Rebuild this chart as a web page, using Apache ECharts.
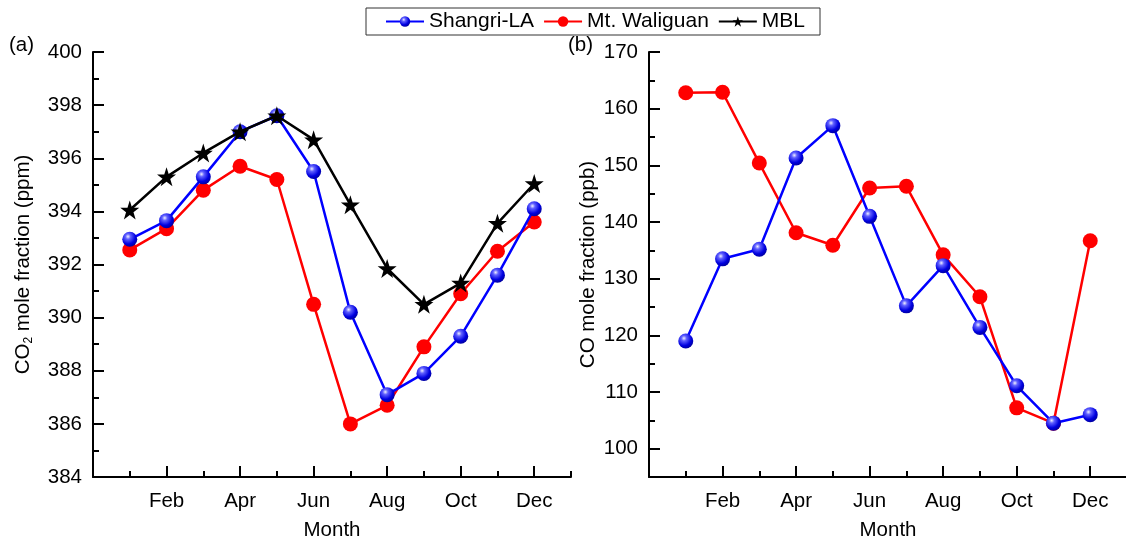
<!DOCTYPE html>
<html>
<head>
<meta charset="utf-8">
<script src="https://cdn.jsdelivr.net/npm/echarts@6/dist/echarts.min.js"></script>
<style>
html,body{margin:0;padding:0;background:#fff;}
#chart{width:1126px;height:536px;}
</style>
</head>
<body>
<div id="chart"></div>
<script>
// Data
const months = [1,2,3,4,5,6,7,8,9,10,11,12];
const monthLabels = {2:'Feb',4:'Apr',6:'Jun',8:'Aug',10:'Oct',12:'Dec'};
const co2Shangri = [392.95,393.65,395.3,397.0,397.6,395.5,390.2,387.1,387.9,389.3,391.6,394.1];
const co2Waliguan = [392.55,393.35,394.8,395.7,395.2,390.5,386.0,386.7,388.9,390.9,392.5,393.6];
const co2MBL = [394.05,395.3,396.2,397.0,397.6,396.7,394.25,391.85,390.5,391.3,393.55,395.05];
const coShangri = [119,133.5,135.2,151.3,157,141,125.2,132.3,121.4,111.1,104.5,106];
const coWaliguan = [162.8,162.9,150.4,138.1,135.9,146,146.3,134.2,126.8,107.2,104.5,136.7];
const co2Ticks = [384,386,388,390,392,394,396,398,400];
const coTicks = [100,110,120,130,140,150,160,170];

const pair = arr => months.map((m,i)=>[m,arr[i]]);
const chart = echarts.init(document.getElementById('chart'));
const FONT = 'Liberation Sans, Arial, sans-serif';
const FS = 20.5;
const star = 'path://M50,0 L61.8,35.1 L98.9,35.1 L69.1,56.7 L80.3,91.9 L50,70 L19.7,91.9 L30.9,56.7 L1.1,35.1 L38.2,35.1 Z';
const sphere = new echarts.graphic.RadialGradient(0.38,0.32,0.7,[
  {offset:0,color:'#f0f0ff'},{offset:0.25,color:'#6060ff'},{offset:0.7,color:'#0000e0'},{offset:1,color:'#0000a0'}]);

const axLine = {show:true,lineStyle:{color:'#000',width:2}};
function xMain(grid){
  return {type:'value',gridIndex:grid,min:0,max:13,
    name:'Month',nameLocation:'middle',nameGap:43,
    nameTextStyle:{fontFamily:FONT,fontSize:FS,color:'#000'},
    axisLine:axLine,splitLine:{show:false},
    axisTick:{show:true,inside:true,length:11,lineStyle:{color:'#000',width:2},customValues:[0,2,4,6,8,10,12]},
    axisLabel:{show:true,customValues:[2,4,6,8,10,12],formatter:v=>monthLabels[v]||'',
      fontFamily:FONT,fontSize:FS,color:'#000',margin:14}};
}
function xMinor(grid){
  return {type:'value',gridIndex:grid,min:0,max:13,position:'bottom',
    axisLine:{show:false},splitLine:{show:false},
    axisTick:{show:true,inside:true,length:6,lineStyle:{color:'#000',width:2},customValues:[1,3,5,7,9,11,13]},
    axisLabel:{show:false}};
}
function yMain(grid,min,max,ticks,name,gap){
  return {type:'value',gridIndex:grid,min:min,max:max,
    name:name,nameLocation:'middle',nameGap:gap,nameRotate:90,
    nameTextStyle:{fontFamily:FONT,fontSize:FS,color:'#000',
      rich:{n:{fontFamily:FONT,fontSize:FS,color:'#000'},s:{fontFamily:FONT,fontSize:12,color:'#000',padding:[12,0,0,0]}}},
    axisLine:axLine,splitLine:{show:false},
    axisTick:{show:true,inside:true,length:11,lineStyle:{color:'#000',width:2},customValues:ticks},
    axisLabel:{show:true,customValues:ticks,fontFamily:FONT,fontSize:FS,color:'#000',margin:11}};
}
function yMinor(grid,min,max,ticks){
  return {type:'value',gridIndex:grid,min:min,max:max,position:'left',
    axisLine:{show:false},splitLine:{show:false},
    axisTick:{show:true,inside:true,length:6,lineStyle:{color:'#000',width:2},customValues:ticks},
    axisLabel:{show:false}};
}
const co2Minor = co2Ticks.slice(0,-1).map(v=>v+1);
const coMinor = [95].concat(coTicks.slice(0,-1).map(v=>v+5));

function blueSeries(data,xi,yi){
  return {name:'Shangri-LA',type:'line',xAxisIndex:xi,yAxisIndex:yi,data:data,
    symbol:'circle',symbolSize:15,lineStyle:{color:'#0000ff',width:2.5},
    itemStyle:{color:sphere,borderWidth:0},emphasis:{disabled:true},z:4};
}
function redSeries(data,xi,yi){
  return {name:'Mt. Waliguan',type:'line',xAxisIndex:xi,yAxisIndex:yi,data:data,
    symbol:'circle',symbolSize:15,lineStyle:{color:'#ff0000',width:2.5},
    itemStyle:{color:'#ff0000',borderWidth:0},emphasis:{disabled:true},z:3};
}

chart.setOption({
  animation:false,
  backgroundColor:'#fff',
  textStyle:{fontFamily:FONT},
  grid:[
    {left:93,top:52,width:478,height:425,outerBoundsMode:'none',containLabel:false},
    {left:649,top:52,width:478,height:425,outerBoundsMode:'none',containLabel:false}
  ],
  legend:{
    data:['Shangri-LA','Mt. Waliguan','MBL'],
    left:366,top:8,itemWidth:38,itemHeight:13,itemGap:9,
    padding:[3,15,3,19],borderColor:'#333',borderWidth:1,
    textStyle:{fontFamily:FONT,fontSize:21,color:'#000'}
  },
  xAxis:[xMain(0),xMinor(0),xMain(1),xMinor(1)],
  yAxis:[
    yMain(0,384,400,co2Ticks,'{n|CO}{s|2}{n| mole fraction (ppm)}',58),
    yMinor(0,384,400,co2Minor),
    yMain(1,95,170,coTicks,'CO mole fraction (ppb)',50),
    yMinor(1,95,170,coMinor)
  ],
  graphic:[
    {type:'text',left:9,top:35,style:{text:'(a)',fontFamily:FONT,fontSize:FS,fill:'#000'}},
    {type:'text',left:568,top:35,style:{text:'(b)',fontFamily:FONT,fontSize:FS,fill:'#000'}}
  ],
  series:[
    redSeries(pair(co2Waliguan),0,0),
    blueSeries(pair(co2Shangri),0,0),
    {name:'MBL',type:'line',xAxisIndex:0,yAxisIndex:0,data:pair(co2MBL),
      symbol:star,symbolSize:19,lineStyle:{color:'#000',width:2.5},
      itemStyle:{color:'#000',borderWidth:0},emphasis:{disabled:true},z:5},
    blueSeries(pair(coShangri),2,2),
    redSeries(pair(coWaliguan),2,2)
  ]
});
</script>
</body>
</html>
